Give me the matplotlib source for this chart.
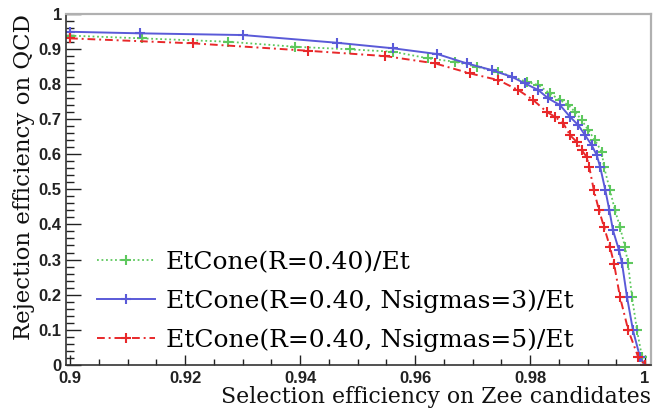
import matplotlib
matplotlib.use("Agg")
import matplotlib.pyplot as plt
from matplotlib.ticker import MultipleLocator, FixedLocator

# ---- data ----
labels = ["EtCone(R=0.40)/Et",
          "EtCone(R=0.40, Nsigmas=3)/Et",
          "EtCone(R=0.40, Nsigmas=5)/Et"]

green_x = [0.9, 0.91247, 0.92748, 0.93913, 0.94870, 0.95623, 0.96231, 0.96696,
           0.97073, 0.97449, 0.97943, 0.98144, 0.98348, 0.98522, 0.98666, 0.98783,
           0.98899, 0.99014, 0.99130, 0.99247, 0.99287, 0.99391, 0.99478, 0.99565,
           0.99652, 0.99704, 0.99774, 0.99861, 0.99948, 1.0]
green_y = [0.937, 0.9293, 0.9197, 0.9054, 0.8980, 0.8912, 0.8724, 0.8627,
           0.8484, 0.8342, 0.8057, 0.7963, 0.7726, 0.7536, 0.7393, 0.7202,
           0.6966, 0.6681, 0.6396, 0.6063, 0.5635, 0.4972, 0.4402, 0.3926,
           0.3356, 0.2892, 0.1932, 0.0983, 0.0222, 0.0]

blue_x = [0.9, 0.91217, 0.93009, 0.94638, 0.95623, 0.96388, 0.96899, 0.97334,
          0.97682, 0.97913, 0.98144, 0.98318, 0.98522, 0.98696, 0.98840, 0.98957,
          0.99073, 0.99160, 0.99220, 0.99310, 0.99380, 0.99443, 0.99548, 0.99600,
          0.99687, 0.99791, 0.99913, 1.0]
blue_y = [0.948, 0.9436, 0.9387, 0.9168, 0.9009, 0.8846, 0.8581, 0.8390,
          0.8199, 0.8011, 0.7821, 0.7584, 0.7393, 0.7060, 0.6823, 0.6538,
          0.6254, 0.5969, 0.5635, 0.4972, 0.4402, 0.3832, 0.3262, 0.2892,
          0.1932, 0.0983, 0.0222, 0.0]

red_x = [0.9, 0.92139, 0.94139, 0.95478, 0.96348, 0.96957, 0.97449, 0.97797,
         0.98057, 0.98290, 0.98435, 0.98579, 0.98696, 0.98812, 0.98899, 0.98986,
         0.99030, 0.99110, 0.99200, 0.99287, 0.99391, 0.99461, 0.99565, 0.99710,
         0.99883, 1.0]
red_y = [0.9293, 0.9151, 0.8940, 0.8789, 0.8581, 0.8296, 0.8105, 0.7821,
         0.7536, 0.7202, 0.7060, 0.6872, 0.6538, 0.6348, 0.6111, 0.5920,
         0.5635, 0.4972, 0.4402, 0.3926, 0.3356, 0.2883, 0.1932, 0.0983,
         0.0222, 0.0]

x_ticks = [0.9, 0.92, 0.94, 0.96, 0.98, 1.0]
x_ticklabels = ["0.9", "0.92", "0.94", "0.96", "0.98", "1"]
y_ticks = [0, 0.1, 0.2, 0.3, 0.4, 0.5, 0.6, 0.7, 0.8, 0.9, 1.0]
y_ticklabels = ["0", "0.1", "0.2", "0.3", "0.4", "0.5", "0.6", "0.7", "0.8", "0.9", "1"]

xlabel = "Selection efficiency on Zee candidates"
ylabel = "Rejection efficiency on QCD"

# ---- figure ----
W, H = 656, 413
fig = plt.figure(figsize=(W / 100, H / 100), dpi=100)
ax = fig.add_axes([66 / W, 1 - 365 / H, (651 - 66) / W, (365 - 13.5) / H])

c_green = "#5ec85e"
c_blue = "#5a5ad8"
c_red = "#e8282a"

ax.plot(green_x, green_y, color=c_green, ls=(0, (1, 1.5)), lw=1.3,
        marker="+", ms=6.5, mew=1.5, label=labels[0])
ax.plot(blue_x, blue_y, color=c_blue, ls="-", lw=1.4,
        marker="+", ms=6.5, mew=1.5, label=labels[1])
ax.plot(red_x, red_y, color=c_red, ls=(0, (4, 2, 1, 2)), lw=1.4,
        marker="+", ms=6.5, mew=1.5, label=labels[2])

ax.set_xlim(0.8993, 1.00104)
ax.set_ylim(0, 1.0)

ax.xaxis.set_major_locator(FixedLocator(x_ticks))
ax.set_xticklabels(x_ticklabels)
ax.xaxis.set_minor_locator(MultipleLocator(0.005))
ax.yaxis.set_major_locator(FixedLocator(y_ticks))
ax.set_yticklabels(y_ticklabels)
ax.yaxis.set_minor_locator(MultipleLocator(0.02))

for lab in ax.get_xticklabels() + ax.get_yticklabels():
    lab.set_fontfamily("Liberation Sans")
    lab.set_fontweight("bold")
    lab.set_fontsize(12)
    lab.set_color("#222222")

ax.tick_params(axis="x", which="major", direction="in", length=7, width=1,
               top=False, pad=4, colors="#222222")
ax.tick_params(axis="x", which="minor", direction="in", length=4, width=1, top=False,
               colors="#222222")
ax.tick_params(axis="y", which="major", direction="in", length=11, width=1,
               right=False, pad=3, colors="#222222")
ax.tick_params(axis="y", which="minor", direction="in", length=6, width=1, right=False,
               colors="#222222")

for s in ["top", "right"]:
    ax.spines[s].set_color("#b0b0b0")
    ax.spines[s].set_linewidth(1.6)
for s in ["left", "bottom"]:
    ax.spines[s].set_color("#333333")
    ax.spines[s].set_linewidth(1.2)

fig.text(651 / W, 1 - 397 / H, xlabel, ha="right", va="center",
         family="DejaVu Serif", fontsize=15.8, color="#111111")
fig.text(24 / W, 1 - 14 / H, ylabel, ha="center", va="top", rotation=90,
         family="DejaVu Serif", fontsize=16.5, color="#111111")

leg = ax.legend(loc="lower left", bbox_to_anchor=(0.036, 0.008), frameon=False,
                prop=dict(family="DejaVu Serif", size=18), handlelength=2.3,
                handletextpad=0.45, labelspacing=0.62, borderaxespad=0)

fig.savefig("out.png", dpi=100)
